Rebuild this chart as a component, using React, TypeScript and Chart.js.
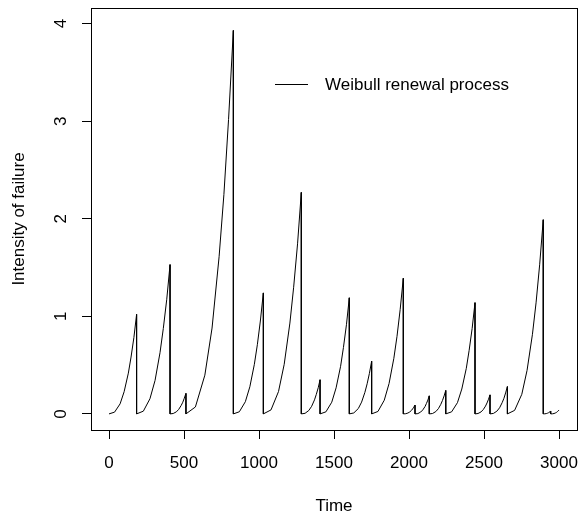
import React, { useEffect, useRef } from "react";
import { Chart, registerables } from "chart.js";

Chart.register(...registerables);

const seriesLabel = "Weibull renewal process";
const xTitle = "Time";
const yTitle = "Intensity of failure";
const xTickValues = [0, 500, 1000, 1500, 2000, 2500, 3000];
const yTickValues = [0, 1, 2, 3, 4];

// One row per renewal cycle: sample times, from the last renewal up to the next failure.
const sampleTimes: number[][] = [
  [0, 37, 74, 101, 129, 147, 166, 184],
  [184, 229, 273, 307, 340, 362, 385, 407],
  [407, 428, 449, 465, 481, 492, 502, 513],
  [513, 576, 639, 687, 734, 766, 797, 829],
  [829, 869, 909, 939, 969, 989, 1009, 1029],
  [1029, 1080, 1130, 1168, 1206, 1231, 1257, 1282],
  [1282, 1307, 1332, 1351, 1370, 1382, 1395, 1407],
  [1407, 1446, 1485, 1514, 1544, 1563, 1583, 1602],
  [1602, 1632, 1662, 1684, 1706, 1721, 1736, 1751],
  [1751, 1793, 1835, 1867, 1899, 1920, 1941, 1962],
  [1962, 1978, 1993, 2005, 2017, 2024, 2032, 2040],
  [2040, 2059, 2078, 2092, 2107, 2116, 2126, 2135],
  [2135, 2157, 2179, 2196, 2212, 2223, 2234, 2245],
  [2245, 2284, 2323, 2352, 2382, 2401, 2421, 2440],
  [2440, 2460, 2480, 2495, 2510, 2520, 2530, 2540],
  [2540, 2563, 2586, 2604, 2621, 2633, 2644, 2656],
  [2656, 2704, 2752, 2787, 2823, 2847, 2871, 2895],
  [2895, 2905, 2915, 2923, 2930, 2935, 2940, 2945],
  [2945, 2956, 2967, 2975, 2984, 2989, 2995, 3000],
];

// Intensity of failure at the sample times above (resets to 0 after each failure).
const sampleIntensity: number[][] = [
  [0, 0.018, 0.103, 0.228, 0.418, 0.583, 0.783, 1.02],
  [0, 0.028, 0.155, 0.343, 0.627, 0.875, 1.175, 1.53],
  [0, 0.004, 0.021, 0.047, 0.086, 0.12, 0.161, 0.21],
  [0, 0.071, 0.397, 0.88, 1.611, 2.248, 3.018, 3.93],
  [0, 0.022, 0.125, 0.278, 0.508, 0.709, 0.952, 1.24],
  [0, 0.041, 0.229, 0.508, 0.931, 1.298, 1.743, 2.27],
  [0, 0.006, 0.035, 0.078, 0.144, 0.2, 0.269, 0.35],
  [0, 0.021, 0.12, 0.267, 0.488, 0.681, 0.914, 1.19],
  [0, 0.01, 0.055, 0.121, 0.221, 0.309, 0.415, 0.54],
  [0, 0.025, 0.14, 0.311, 0.57, 0.795, 1.068, 1.39],
  [0, 0.002, 0.009, 0.02, 0.037, 0.051, 0.069, 0.09],
  [0, 0.003, 0.019, 0.041, 0.076, 0.106, 0.142, 0.185],
  [0, 0.004, 0.024, 0.054, 0.098, 0.137, 0.184, 0.24],
  [0, 0.021, 0.115, 0.255, 0.467, 0.652, 0.876, 1.14],
  [0, 0.004, 0.02, 0.044, 0.08, 0.112, 0.15, 0.195],
  [0, 0.005, 0.028, 0.063, 0.115, 0.16, 0.215, 0.28],
  [0, 0.036, 0.201, 0.446, 0.816, 1.138, 1.528, 1.99],
  [0, 0.001, 0.003, 0.007, 0.012, 0.017, 0.023, 0.03],
  [0, 0.001, 0.004, 0.009, 0.016, 0.023, 0.031, 0.04],
];

const FONT = "'Liberation Sans', Arial, Helvetica, sans-serif";
const INK = "#000000";

// Plot frame plus an R-style legend (line key, no box) inside the plotting region.
const frameAndKey = {
  id: "frameAndKey",
  afterDraw(chart: any) {
    const { ctx, chartArea: a } = chart;
    ctx.save();
    ctx.strokeStyle = INK;
    ctx.lineWidth = 1;
    ctx.strokeRect(a.left + 0.5, a.top + 0.5, a.right - a.left, a.bottom - a.top);

    const keyY = 84.5;
    ctx.beginPath();
    ctx.moveTo(275, keyY);
    ctx.lineTo(308, keyY);
    ctx.stroke();
    ctx.fillStyle = INK;
    ctx.font = `17px ${FONT}`;
    ctx.textAlign = "left";
    ctx.textBaseline = "middle";
    ctx.fillText(chart.data.datasets[0].label, 325, keyY + 1);
    ctx.restore();
  },
};

// Fixed axis band sizes; the default label overhang padding is dropped so the
// plotting region keeps its own margins.
const fixBand = (size: number) => (s: any) => {
  if (s.isHorizontal()) s.height = size;
  else s.width = size;
  s.paddingLeft = 0;
  s.paddingRight = 0;
  s.paddingTop = 0;
  s.paddingBottom = 0;
};

export default function App() {
  const canvasRef = useRef<HTMLCanvasElement | null>(null);

  useEffect(() => {
    document.body.style.margin = "0";
    const canvas = canvasRef.current;
    if (!canvas) return;

    const points: { x: number; y: number }[] = [];
    sampleTimes.forEach((row, i) => {
      row.forEach((t, j) => points.push({ x: t, y: sampleIntensity[i][j] }));
    });

    const tickFont = { family: FONT, size: 17 };

    const chart = new Chart(canvas, {
      type: "line",
      data: {
        datasets: [
          {
            label: seriesLabel,
            data: points,
            borderColor: INK,
            borderWidth: 1,
            pointRadius: 0,
            tension: 0,
            fill: false,
          },
        ],
      },
      options: {
        animation: false,
        responsive: false,
        devicePixelRatio: 1,
        parsing: false,
        layout: { padding: { top: 8, right: 3, left: 0, bottom: 0 } },
        plugins: { legend: { display: false }, tooltip: { enabled: false } },
        scales: {
          x: {
            type: "linear",
            min: -120,
            max: 3120,
            afterBuildTicks: (s: any) => {
              s.ticks = xTickValues.map((v) => ({ value: v }));
            },
            afterFit: fixBand(91),
            grid: { drawOnChartArea: false, drawTicks: true, tickLength: 9, color: INK, lineWidth: 1 },
            border: { display: false },
            ticks: {
              color: INK,
              font: tickFont,
              padding: 14,
              maxRotation: 0,
              autoSkip: false,
              callback: (v: any) => String(v),
            },
            title: {
              display: true,
              text: xTitle,
              color: INK,
              font: tickFont,
              padding: { top: 0, bottom: 4 },
            },
          },
          y: {
            type: "linear",
            min: -0.165,
            max: 4.16,
            afterBuildTicks: (s: any) => {
              s.ticks = yTickValues.map((v) => ({ value: v }));
            },
            afterFit: fixBand(91),
            grid: { drawOnChartArea: false, drawTicks: true, tickLength: 9, color: INK, lineWidth: 1 },
            border: { display: false },
            ticks: {
              color: INK,
              font: tickFont,
              padding: 16,
              minRotation: 90,
              maxRotation: 90,
              crossAlign: "center",
              autoSkip: false,
              callback: (v: any) => String(v),
            },
            title: {
              display: true,
              text: yTitle,
              color: INK,
              font: tickFont,
              padding: { top: 9, bottom: 0 },
            },
          },
        },
      },
      plugins: [frameAndKey],
    } as any);

    return () => chart.destroy();
  }, []);

  return (
    <div style={{ width: 580, height: 521 }}>
      <canvas ref={canvasRef} width={580} height={521} style={{ display: "block", width: 580, height: 521 }} />
    </div>
  );
}
